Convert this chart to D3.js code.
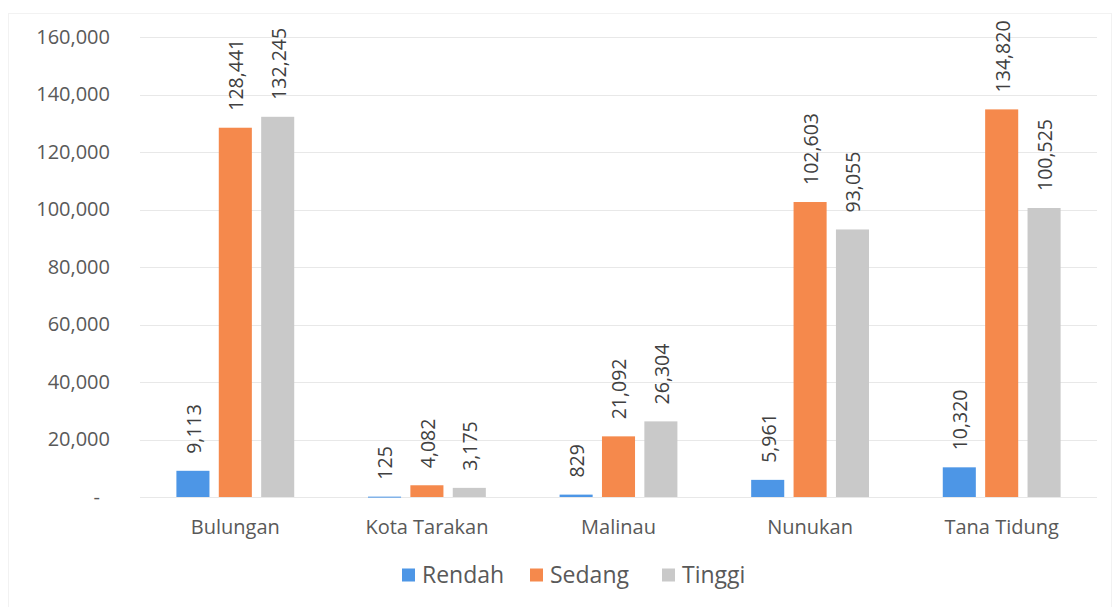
<!DOCTYPE html>
<html>
<head>
<meta charset="utf-8">
<script src="https://cdn.jsdelivr.net/npm/d3@7"></script>
<style>
  body { margin: 0; background: #fff; }
  svg { font-family: 'Open Sans', sans-serif; }
</style>
</head>
<body>
<svg width="1115" height="607"></svg>
<script>
const categories = ['Bulungan', 'Kota Tarakan', 'Malinau', 'Nunukan', 'Tana Tidung']
const seriesNames = ['Rendah', 'Sedang', 'Tinggi']
const rendah = [9113, 125, 829, 5961, 10320]
const sedang = [128441, 4082, 21092, 102603, 134820]
const tinggi = [132245, 3175, 26304, 93055, 100525]
const yTicks = [0, 20000, 40000, 60000, 80000, 100000, 120000, 140000, 160000]
const colors = ['#4d96e6', '#f5894c', '#c9c9c9']

const svg = d3.select('svg')
const margin = { left: 140, right: 18, top: 37, bottom: 110 }
const width = +svg.attr('width')
const height = +svg.attr('height')
const seriesValues = [rendah, sedang, tinggi]

// faint outer frame of the chart area
svg.append('rect')
  .attr('x', 8.5).attr('y', 13.5)
  .attr('width', width - 12).attr('height', height - 10)
  .attr('fill', 'none').attr('stroke', '#f2f2f2')

const x0 = d3.scaleBand()
  .domain(categories)
  .range([margin.left, width - margin.right])
  .paddingInner(0.385)
  .paddingOuter(0.19)

const x1 = d3.scaleBand()
  .domain(seriesNames)
  .range([0, x0.bandwidth()])
  .paddingInner(0.22)

const y = d3.scaleLinear()
  .domain([0, 160000])
  .range([height - margin.bottom, margin.top])

const fmt = d3.format(',')

// gridlines
svg.append('g')
  .selectAll('line')
  .data(yTicks)
  .enter()
  .append('line')
  .attr('x1', margin.left)
  .attr('x2', width - margin.right)
  .attr('y1', d => Math.round(y(d)) + 0.5)
  .attr('y2', d => Math.round(y(d)) + 0.5)
  .attr('stroke', '#e8e8e8')

// y axis labels
const yAxis = d3.axisLeft(y)
  .tickValues(yTicks)
  .tickSize(0)
  .tickPadding(0)
  .tickFormat(d => d === 0 ? '-' : fmt(d))

svg.append('g')
  .attr('transform', 'translate(110,0)')
  .call(yAxis)
  .call(g => g.select('.domain').remove())
  .call(g => g.selectAll('text')
    .attr('font-size', 20)
    .attr('fill', '#595959')
    .attr('font-family', "'Open Sans', sans-serif")
    .attr('dx', d => d === 0 ? -10 : 0))

// x axis labels
const xAxis = d3.axisBottom(x0).tickSize(0).tickPadding(0)
svg.append('g')
  .attr('transform', `translate(0,${y(0) + 23})`)
  .call(xAxis)
  .call(g => g.select('.domain').remove())
  .call(g => g.selectAll('text')
    .attr('font-size', 20)
    .attr('fill', '#595959')
    .attr('font-family', "'Open Sans', sans-serif"))

// bars
const groups = svg.append('g')
  .selectAll('g')
  .data(categories)
  .enter()
  .append('g')
  .attr('transform', d => `translate(${x0(d)},0)`)

const bars = groups.selectAll('g.bar')
  .data((d, i) => seriesNames.map((s, j) => ({ series: s, j: j, value: seriesValues[j][i] })))
  .enter()
  .append('g')
  .attr('class', 'bar')

bars.append('rect')
  .attr('x', d => x1(d.series))
  .attr('width', x1.bandwidth())
  .attr('y', d => y(d.value))
  .attr('height', d => Math.max(1, y(0) - y(d.value)))
  .attr('fill', d => colors[d.j])

bars.append('text')
  .attr('transform', d => `translate(${x1(d.series) + x1.bandwidth() / 2 + 1},${y(d.value) - 17}) rotate(-90)`)
  .attr('dy', '0.35em')
  .attr('font-size', 19.5)
  .attr('fill', '#404040')
  .text(d => fmt(d.value))

// legend
const legendX = [402, 530, 662]
const legend = svg.append('g')
  .selectAll('g')
  .data(seriesNames)
  .enter()
  .append('g')
  .attr('transform', (d, i) => `translate(${legendX[i]},575)`)

legend.append('rect')
  .attr('x', 0).attr('y', -6.5)
  .attr('width', 13).attr('height', 13)
  .attr('fill', (d, i) => colors[i])

legend.append('text')
  .attr('x', 20)
  .attr('dy', '0.35em')
  .attr('font-size', 23)
  .attr('fill', '#595959')
  .text(d => d)
</script>
</body>
</html>
